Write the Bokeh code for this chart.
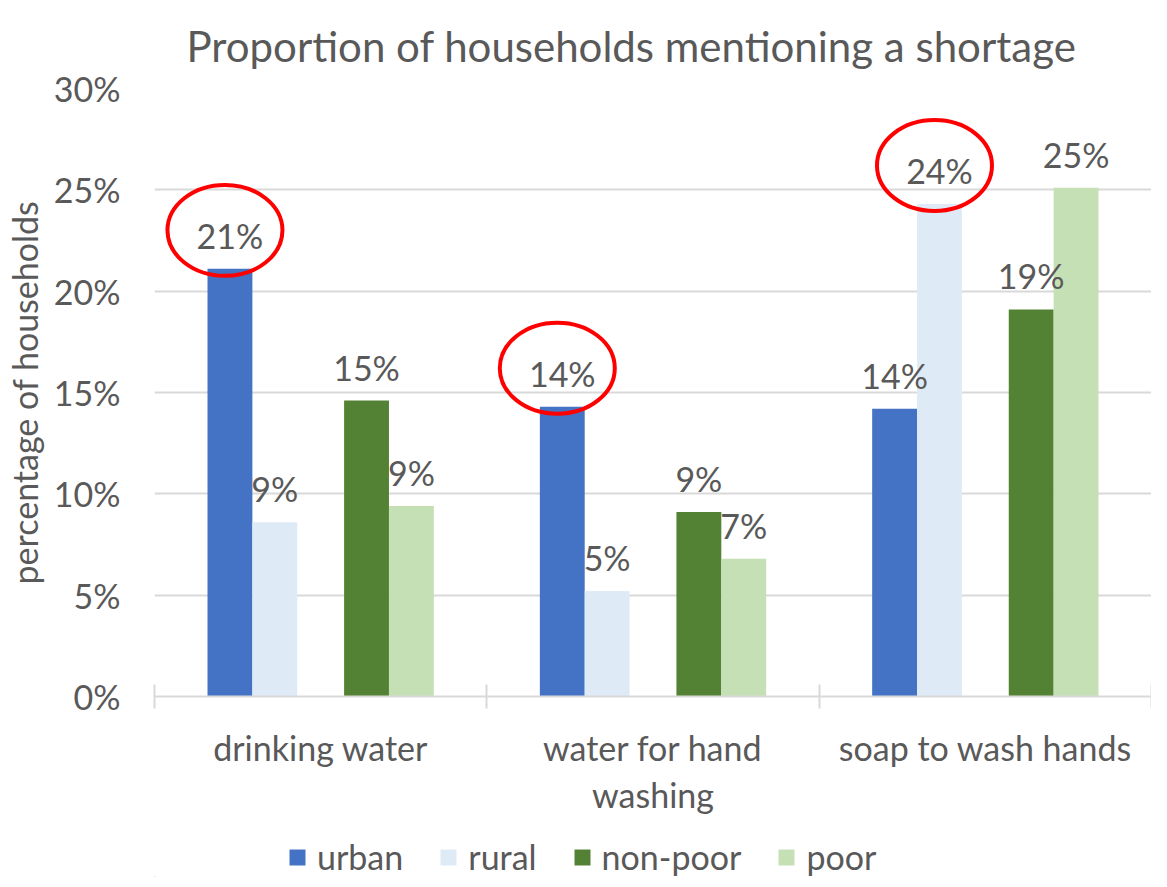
from bokeh.plotting import figure
from bokeh.layouts import column
from bokeh.models import (ColumnDataSource, FixedTicker, PrintfTickFormatter, Range1d,
                          Legend, LegendItem, LabelSet)
from bokeh.embed import file_html
from bokeh.resources import INLINE
from bokeh.core.properties import value

# ---------------- data ----------------
categories = ["drinking water", "water for hand washing", "soap to wash hands"]
category_labels = ["drinking water", "water for hand\nwashing", "soap to wash hands"]
series = ["urban", "rural", "non-poor", "poor"]
urban = [21.1, 14.3, 14.2]
rural = [8.6, 5.2, 24.3]
non_poor = [14.6, 9.1, 19.1]
poor = [9.4, 6.8, 25.1]
y_ticks = [0, 5, 10, 15, 20, 25, 30]
# data labels circled in red: (category index, series name)
highlights = [(0, "urban"), (1, "urban"), (2, "rural")]

# ---------------- styles ----------------
FONT = "Lato"
TXT = "#595959"
GRID = "#D9D9D9"
colors = {"urban": "#4472C4", "rural": "#DEEBF7", "non-poor": "#548235", "poor": "#C5E0B4"}
offsets = {"urban": -0.273, "rural": -0.138, "non-poor": 0.138, "poor": 0.273}
BAR_W = 0.135
values = {"urban": urban, "rural": rural, "non-poor": non_poor, "poor": poor}

p = figure(frame_width=997, frame_height=608, output_backend="svg", toolbar_location=None,
           x_range=Range1d(0, len(categories)), y_range=Range1d(0, 30),
           min_border_left=153, min_border_right=0, min_border_top=82, min_border_bottom=130,
           title="Proportion of households mentioning a shortage")
p.outline_line_color = None
p.background_fill_color = "white"

p.title.align = "left"
p.title.offset = 32
p.title.text_font = FONT
p.title.text_font_size = "42px"
p.title.text_font_style = "normal"
p.title.text_color = TXT
p.title.standoff = 36

for s in series:
    xs = [i + 0.5 + offsets[s] for i in range(len(categories))]
    src = ColumnDataSource(dict(x=xs, top=values[s],
                                label=[f"{v:.0f}%" for v in values[s]]))
    p.vbar(x="x", top="top", bottom=0, width=BAR_W, source=src,
           fill_color=colors[s], line_color=None)
    p.add_layout(LabelSet(x="x", y="top", text="label", source=src,
                          text_align="center", text_baseline="alphabetic", y_offset=20,
                          text_font=value(FONT), text_font_size=value("34px"),
                          text_color=TXT))

# red circles around highlighted labels
ex = [i + 0.5 + offsets[s] - 0.015 for i, s in highlights]
ey = [values[s][i] + 1.9 for i, s in highlights]
p.ellipse(x=ex, y=ey, width=115, height=91, width_units="screen", height_units="screen",
          fill_color=None, line_color="#FF0000", line_width=4)

# y axis
p.yaxis.ticker = FixedTicker(ticks=y_ticks)
p.yaxis.formatter = PrintfTickFormatter(format="%d%%")
p.yaxis.axis_line_color = None
p.yaxis.major_tick_line_color = None
p.yaxis.minor_tick_line_color = None
p.yaxis.major_tick_out = 0
p.yaxis.major_tick_in = 0
p.yaxis.major_label_standoff = 34
p.yaxis.major_label_text_font = FONT
p.yaxis.major_label_text_font_size = "34px"
p.yaxis.major_label_text_color = TXT
p.yaxis.axis_label = "percentage of households"
p.yaxis.axis_label_text_font = FONT
p.yaxis.axis_label_text_font_size = "34px"
p.yaxis.axis_label_text_font_style = "normal"
p.yaxis.axis_label_text_color = TXT
p.yaxis.axis_label_standoff = 6

p.ygrid.ticker = FixedTicker(ticks=y_ticks)
p.ygrid.grid_line_color = GRID
p.ygrid.grid_line_width = 2
p.xgrid.grid_line_color = None

# x axis
centers = [i + 0.5 for i in range(len(categories))]
bounds = [float(i) for i in range(len(categories) + 1)]
p.xaxis.ticker = FixedTicker(ticks=centers, minor_ticks=bounds)
p.xaxis.major_label_overrides = {c: lab for c, lab in zip(centers, category_labels)}
p.xaxis.axis_line_color = GRID
p.xaxis.axis_line_width = 2
p.xaxis.major_tick_line_color = None
p.xaxis.major_tick_out = 0
p.xaxis.major_tick_in = 0
p.xaxis.minor_tick_line_color = GRID
p.xaxis.minor_tick_line_width = 2
p.xaxis.minor_tick_in = 12
p.xaxis.minor_tick_out = 12
p.xaxis.major_label_standoff = 18
p.xaxis.major_label_text_font = FONT
p.xaxis.major_label_text_font_size = "34px"
p.xaxis.major_label_text_color = TXT
p.xaxis.major_label_text_line_height = 1.15

# legend strip below the chart (its swatch renderers sit outside the visible range)
LEG_W, LEG_H = 1150, 51
pl = figure(width=LEG_W, height=LEG_H, output_backend="svg", toolbar_location=None,
            x_range=Range1d(0, LEG_W), y_range=Range1d(0, LEG_H),
            x_axis_location=None, y_axis_location=None, min_border=0)
pl.outline_line_color = None
pl.xgrid.visible = False
pl.ygrid.visible = False
items = []
for s in series:
    r = pl.vbar(x=[-1000], top=[1], width=1, fill_color=colors[s], line_color=None)
    items.append(LegendItem(label=s, renderers=[r]))
legend = Legend(items=items, orientation="horizontal", location=(133, 0),
                glyph_width=20, glyph_height=20, label_standoff=10, spacing=35,
                label_text_font=FONT, label_text_font_size="34px", label_text_color=TXT,
                border_line_color=None, background_fill_alpha=0, padding=0, margin=0)
pl.add_layout(legend, "center")

open("out.html", "w").write(file_html(column(p, pl), INLINE))
